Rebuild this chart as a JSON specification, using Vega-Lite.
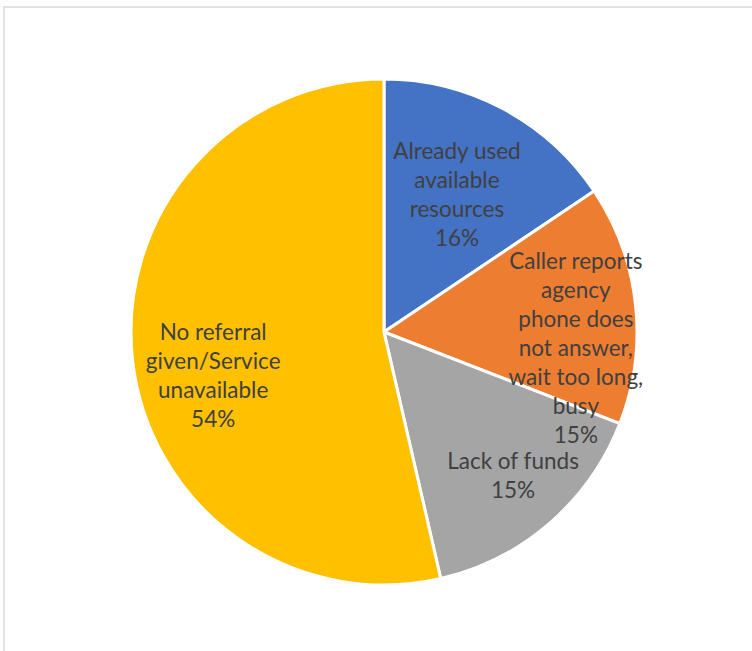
{
  "$schema": "https://vega.github.io/schema/vega-lite/v6.json",
  "width": 760,
  "height": 650,
  "autosize": {"type": "none"},
  "padding": {"left": 4, "top": 7, "right": 0, "bottom": 0},
  "background": "white",
  "view": {"stroke": "#d9d9d9", "strokeWidth": 1.5},
  "config": {"view": {"stroke": "#d9d9d9", "strokeWidth": 1.5}},
  "data": {
    "values": [
      {"category": "Already used available resources", "value": 15.6, "label": "Already used\navailable\nresources\n16%"},
      {"category": "Caller reports agency phone does not answer, wait too long, busy", "value": 15.3, "label": "Caller reports\nagency\nphone does\nnot answer,\nwait too long,\nbusy\n15%"},
      {"category": "Lack of funds", "value": 15.5, "label": "Lack of funds\n15%"},
      {"category": "No referral given/Service unavailable", "value": 53.6, "label": "No referral\ngiven/Service\nunavailable\n54%"}
    ]
  },
  "encoding": {
    "theta": {"field": "value", "type": "quantitative", "stack": true},
    "order": {"field": "category", "type": "nominal", "sort": "ascending"}
  },
  "layer": [
    {
      "mark": {"type": "arc", "outerRadius": 253, "stroke": "white", "strokeWidth": 3},
      "encoding": {
        "color": {
          "field": "category", "type": "nominal", "legend": null,
          "scale": {
            "domain": ["Already used available resources", "Caller reports agency phone does not answer, wait too long, busy", "Lack of funds", "No referral given/Service unavailable"],
            "range": ["#4472C4", "#ED7D31", "#A5A5A5", "#FFC000"]
          }
        }
      }
    },
    {
      "mark": {"type": "text", "radius": 155, "dy": -43, "font": "Lato", "fontSize": 22.5, "lineHeight": 29, "lineBreak": "\n", "color": "#404040", "baseline": "middle", "align": "center"},
      "encoding": {
        "text": {"condition": {"test": "datum.category === 'Already used available resources'", "field": "label"}, "value": ""}
      }
    },
    {
      "mark": {"type": "text", "radius": 190, "dx": 3, "dy": -49, "font": "Lato", "fontSize": 22.5, "lineHeight": 29, "lineBreak": "\n", "color": "#404040", "baseline": "middle", "align": "center"},
      "encoding": {
        "text": {"condition": {"test": "datum.category === 'Caller reports agency phone does not answer, wait too long, busy'", "field": "label"}, "value": ""}
      }
    },
    {
      "mark": {"type": "text", "radius": 185, "dx": 8, "dy": -10, "font": "Lato", "fontSize": 22.5, "lineHeight": 29, "lineBreak": "\n", "color": "#404040", "baseline": "middle", "align": "center"},
      "encoding": {
        "text": {"condition": {"test": "datum.category === 'Lack of funds'", "field": "label"}, "value": ""}
      }
    },
    {
      "mark": {"type": "text", "radius": 185, "dx": 13, "dy": -20, "font": "Lato", "fontSize": 22.5, "lineHeight": 29, "lineBreak": "\n", "color": "#404040", "baseline": "middle", "align": "center"},
      "encoding": {
        "text": {"condition": {"test": "datum.category === 'No referral given/Service unavailable'", "field": "label"}, "value": ""}
      }
    }
  ]
}
